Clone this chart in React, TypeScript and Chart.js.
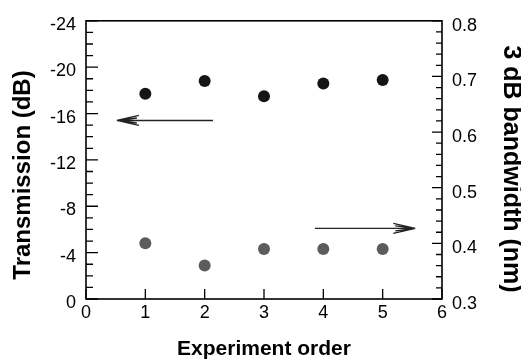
import { useEffect, useRef } from 'react';
import { Chart, registerables } from 'chart.js';

Chart.register(...registerables);

// ---- data ----
const experimentOrder = [1, 2, 3, 4, 5];
const transmissionDb = [-17.7, -18.8, -17.5, -18.6, -18.9];
const bandwidthNm = [0.4, 0.36, 0.39, 0.39, 0.39];
const xRange = [0, 6];
const transmissionRange = [-24, 0];
const bandwidthRange = [0.3, 0.8];
// arrows: [x start, x end, y value]
const arrowToLeftAxis = [2.14, 0.52, -15.4];
const arrowToRightAxis = [3.86, 5.55, 0.427];

const xTitle = 'Experiment order';
const leftTitle = 'Transmission (dB)';
const rightTitle = '3 dB bandwidth (nm)';

const FONT = '"Liberation Sans", Arial, Helvetica, sans-serif';

function drawArrow(ctx: CanvasRenderingContext2D, x1: number, x2: number, y: number) {
  const dir = x2 > x1 ? 1 : -1;
  const head = 22;
  ctx.beginPath();
  ctx.moveTo(x1, y);
  ctx.lineTo(x2, y);
  ctx.moveTo(x2, y);
  ctx.lineTo(x2 - dir * head, y - 5);
  ctx.moveTo(x2, y);
  ctx.lineTo(x2 - dir * head, y + 5);
  ctx.moveTo(x2, y);
  ctx.lineTo(x2 - dir * (head - 2), y - 2.5);
  ctx.moveTo(x2, y);
  ctx.lineTo(x2 - dir * (head - 2), y + 2.5);
  ctx.stroke();
}

const framePlugin = {
  id: 'frameTicks',
  afterDraw(chart: any) {
    const { ctx, chartArea: a, scales } = chart;
    const yl = scales.y;
    const yr = scales.y1;
    const xs = scales.x;
    ctx.save();
    ctx.strokeStyle = '#000';
    ctx.lineWidth = 1.6;
    ctx.strokeRect(a.left, a.top, a.right - a.left, a.bottom - a.top);

    ctx.lineWidth = 1.3;
    ctx.beginPath();
    yl.ticks.forEach((t: any) => {
      const p = yl.getPixelForValue(t.value);
      const len = Math.round(t.value) % 4 === 0 ? 12 : 7;
      ctx.moveTo(a.left, p);
      ctx.lineTo(a.left + len, p);
    });
    yr.ticks.forEach((t: any) => {
      const p = yr.getPixelForValue(t.value);
      const len = Math.round(t.value * 100) % 10 === 0 ? 10 : 6;
      ctx.moveTo(a.right, p);
      ctx.lineTo(a.right - len, p);
    });
    xs.ticks.forEach((t: any) => {
      const p = xs.getPixelForValue(t.value);
      ctx.moveTo(p, a.bottom);
      ctx.lineTo(p, a.bottom - 10);
    });
    ctx.stroke();

    // arrows
    ctx.lineWidth = 1.3;
    ctx.strokeStyle = '#222';
    drawArrow(
      ctx,
      xs.getPixelForValue(arrowToLeftAxis[0]),
      xs.getPixelForValue(arrowToLeftAxis[1]),
      yl.getPixelForValue(arrowToLeftAxis[2])
    );
    drawArrow(
      ctx,
      xs.getPixelForValue(arrowToRightAxis[0]),
      xs.getPixelForValue(arrowToRightAxis[1]),
      yr.getPixelForValue(arrowToRightAxis[2])
    );

    // vertical axis titles
    ctx.fillStyle = '#000';
    ctx.textAlign = 'center';
    ctx.textBaseline = 'middle';
    ctx.font = `bold 24px ${FONT}`;
    ctx.save();
    ctx.translate(23, 175);
    ctx.rotate(-Math.PI / 2);
    ctx.fillText(leftTitle, 0, 0);
    ctx.restore();
    ctx.font = `bold 25px ${FONT}`;
    ctx.save();
    ctx.translate(511, 169);
    ctx.rotate(Math.PI / 2);
    ctx.fillText(rightTitle, 0, 0);
    ctx.restore();

    ctx.restore();
  },
};

export default function App() {
  const ref = useRef<HTMLCanvasElement | null>(null);

  useEffect(() => {
    if (!ref.current) return;
    const tickFont = { family: FONT, size: 18 };
    const chart = new Chart(ref.current, {
      type: 'scatter',
      data: {
        datasets: [
          {
            label: leftTitle,
            data: experimentOrder.map((x, i) => ({ x, y: transmissionDb[i] })),
            yAxisID: 'y',
            backgroundColor: '#151515',
            borderWidth: 0,
            pointRadius: 6,
          },
          {
            label: rightTitle,
            data: experimentOrder.map((x, i) => ({ x, y: bandwidthNm[i] })),
            yAxisID: 'y1',
            backgroundColor: '#5c5c5c',
            borderWidth: 0,
            pointRadius: 6,
          },
        ],
      },
      options: {
        animation: false,
        responsive: false,
        devicePixelRatio: 1,
        layout: { padding: { top: 16, left: 0, right: 0, bottom: 0 } },
        plugins: {
          legend: { display: false },
          tooltip: { enabled: false },
        },
        scales: {
          x: {
            type: 'linear',
            position: 'bottom',
            min: xRange[0],
            max: xRange[1],
            grid: { display: false, drawTicks: false, tickLength: 0 },
            border: { display: false },
            ticks: {
              stepSize: 1,
              padding: 3,
              color: '#000',
              font: tickFont,
              autoSkip: false,
              maxRotation: 0,
            },
            title: {
              display: true,
              text: xTitle,
              color: '#000',
              font: { family: FONT, size: 21, weight: 'bold', lineHeight: 1 },
              padding: { top: 0, bottom: 1 },
            },
            afterFit: (s: any) => {
              s.height = 62;
            },
          },
          y: {
            type: 'linear',
            position: 'left',
            min: transmissionRange[0],
            max: transmissionRange[1],
            reverse: true,
            grid: { display: false, drawTicks: false, tickLength: 0 },
            border: { display: false },
            ticks: {
              stepSize: 1,
              padding: 10,
              labelOffset: 4,
              color: '#000',
              font: tickFont,
              autoSkip: false,
              callback: (v: any) => {
                const r = Math.round(Number(v));
                return r % 4 === 0 ? String(r === 0 ? 0 : r) : '';
              },
            },
            afterFit: (s: any) => {
              s.width = 86;
            },
          },
          y1: {
            type: 'linear',
            position: 'right',
            min: bandwidthRange[0],
            max: bandwidthRange[1],
            grid: { display: false, drawTicks: false, tickLength: 0 },
            border: { display: false },
            ticks: {
              stepSize: 0.02,
              padding: 10,
              labelOffset: 5,
              color: '#000',
              font: tickFont,
              autoSkip: false,
              callback: (v: any) => {
                const n = Number(v);
                return Math.round(n * 100) % 10 === 0 ? n.toFixed(1) : '';
              },
            },
            afterFit: (s: any) => {
              s.width = 79;
            },
          },
        },
      },
      plugins: [framePlugin],
    });
    return () => chart.destroy();
  }, []);

  return (
    <div style={{ position: 'absolute', left: 0, top: 0, width: 521, height: 361, background: '#fff' }}>
      <canvas ref={ref} width={521} height={361} />
    </div>
  );
}
